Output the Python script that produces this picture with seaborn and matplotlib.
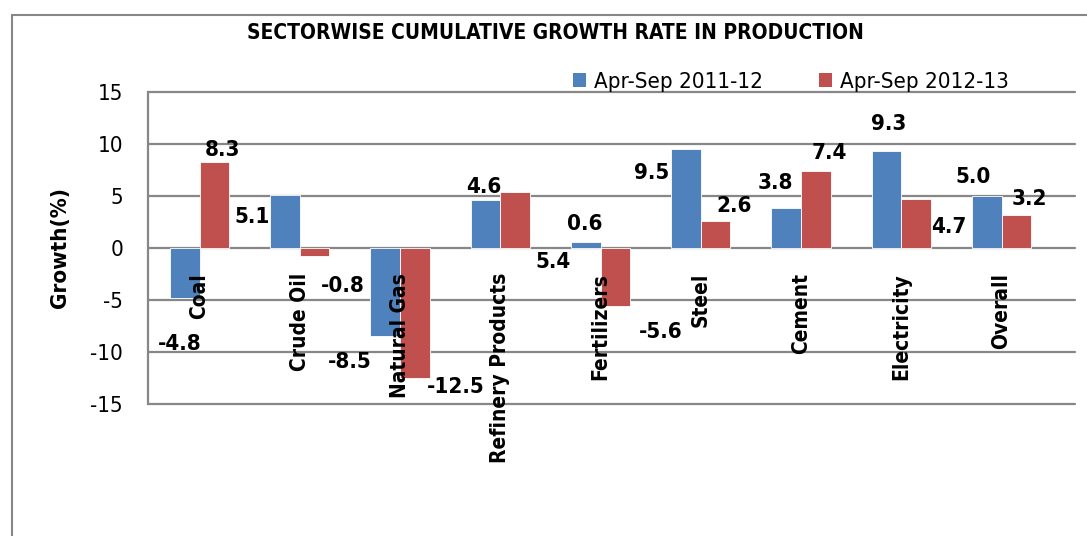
import matplotlib
matplotlib.use('Agg')
import pandas as pd
import matplotlib.pyplot as plt
import seaborn as sns
from matplotlib.lines import Line2D
from matplotlib.patches import Patch

# Data
sectors = ['Coal', 'Crude Oil', 'Natural Gas', 'Refinery Products', 'Fertilizers',
           'Steel', 'Cement', 'Electricity', 'Overall']
periods = ['Apr-Sep 2011-12', 'Apr-Sep 2012-13']
growth_2011 = [-4.8, 5.1, -8.5, 4.6, 0.6, 9.5, 3.8, 9.3, 5.0]
growth_2012 = [8.3, -0.8, -12.5, 5.4, -5.6, 2.6, 7.4, 4.7, 3.2]

# label offsets (pixels from bar end), the original chart has them scattered around
lab_dx_2011 = [-5, -33, -35, -2, -1, -34, -11, 2, -14]
lab_dy_2011 = [-46, -22, -26, 13, 18, -24, 25, 27, 19]
lab_dx_2012 = [8, 28, 41, 38, 45, 19, 14, 33, 13]
lab_dy_2012 = [12, -30, -9, -70, -26, 15, 18, -28, 16]

colors = ['#4F81BD', '#C0504D']
grey = '#878787'

df = pd.DataFrame({
    'sector': sectors * 2,
    'growth': growth_2011 + growth_2012,
    'period': [periods[0]] * len(sectors) + [periods[1]] * len(sectors),
})

sns.set_style('white')
plt.rcParams['font.family'] = ['Liberation Sans Narrow', 'DejaVu Sans']
plt.rcParams['font.stretch'] = 'condensed'
plt.rcParams['axes.unicode_minus'] = False
plt.rcParams['text.color'] = 'black'
plt.rcParams['axes.labelcolor'] = 'black'
plt.rcParams['ytick.color'] = 'black'

fig = plt.figure(figsize=(10.87, 5.36), dpi=100)
ax = fig.add_axes([148 / 1087, 1 - 404 / 536, 927 / 1087, 312 / 536])

sns.barplot(data=df, x='sector', y='growth', hue='period', palette=colors,
            width=0.59, saturation=1, edgecolor='white', linewidth=0.6,
            legend=False, ax=ax, zorder=2)

ax.set_ylim(-15, 15)
ax.set_xlim(-0.514, 8.733)
ax.set_yticks([-15, -10, -5, 0, 5, 10, 15])
ax.yaxis.grid(True, color=grey, linewidth=1.6, zorder=0)
ax.set_axisbelow(True)
for gl in ax.get_ygridlines():
    gl.set_clip_on(False)
for s in ['top', 'right', 'bottom']:
    ax.spines[s].set_visible(False)
ax.spines['left'].set_color(grey)
ax.spines['left'].set_linewidth(1.6)
ax.tick_params(axis='y', length=0, pad=18, labelsize=16)
ax.tick_params(axis='x', length=0)
ax.set_xticklabels([])
ax.set_xlabel('')
ax.set_ylabel('Growth(%)', fontsize=16, fontweight='bold')
ax.yaxis.set_label_coords(-0.084, 0.5)

# category names hanging below the zero line
for i, name in enumerate(sectors):
    ax.annotate(name, (i, 0), xytext=(0, -25), textcoords='offset pixels',
                rotation=90, ha='center', va='top', fontsize=15,
                fontweight='bold', zorder=5)

# data labels
offsets = [(lab_dx_2011, lab_dy_2011), (lab_dx_2012, lab_dy_2012)]
for cont, (dxs, dys) in zip(ax.containers, offsets):
    for bar, dx, dy in zip(cont, dxs, dys):
        xc = bar.get_x() + bar.get_width() / 2
        yend = bar.get_y() + bar.get_height()
        val = bar.get_height()
        ax.annotate(f'{val:.1f}', (xc, yend), xytext=(dx, dy),
                    textcoords='offset pixels', ha='center', va='center',
                    fontsize=16, fontweight='bold', zorder=5)

handles = [Patch(facecolor=c, edgecolor='none') for c in colors]
ax.legend(handles, periods, loc='center left', bbox_to_anchor=(573 / 1087, 1 - 82 / 536),
          bbox_transform=fig.transFigure, ncol=2, frameon=False, fontsize=16,
          handlelength=0.6, handleheight=0.6, handletextpad=0.35,
          columnspacing=2.5, borderpad=0, borderaxespad=0)

fig.text(555 / 1087, 1 - 33 / 536, 'SECTORWISE CUMULATIVE GROWTH RATE IN PRODUCTION',
         ha='center', va='center', fontsize=15, fontweight='bold')

# outer chart border (top and left visible)
fig.add_artist(Line2D([12 / 1087, 1.0], [1 - 15 / 536] * 2, color=grey, linewidth=1.5))
fig.add_artist(Line2D([12 / 1087] * 2, [0.0, 1 - 15 / 536], color=grey, linewidth=1.5))

fig.savefig('out.png', dpi=100)
